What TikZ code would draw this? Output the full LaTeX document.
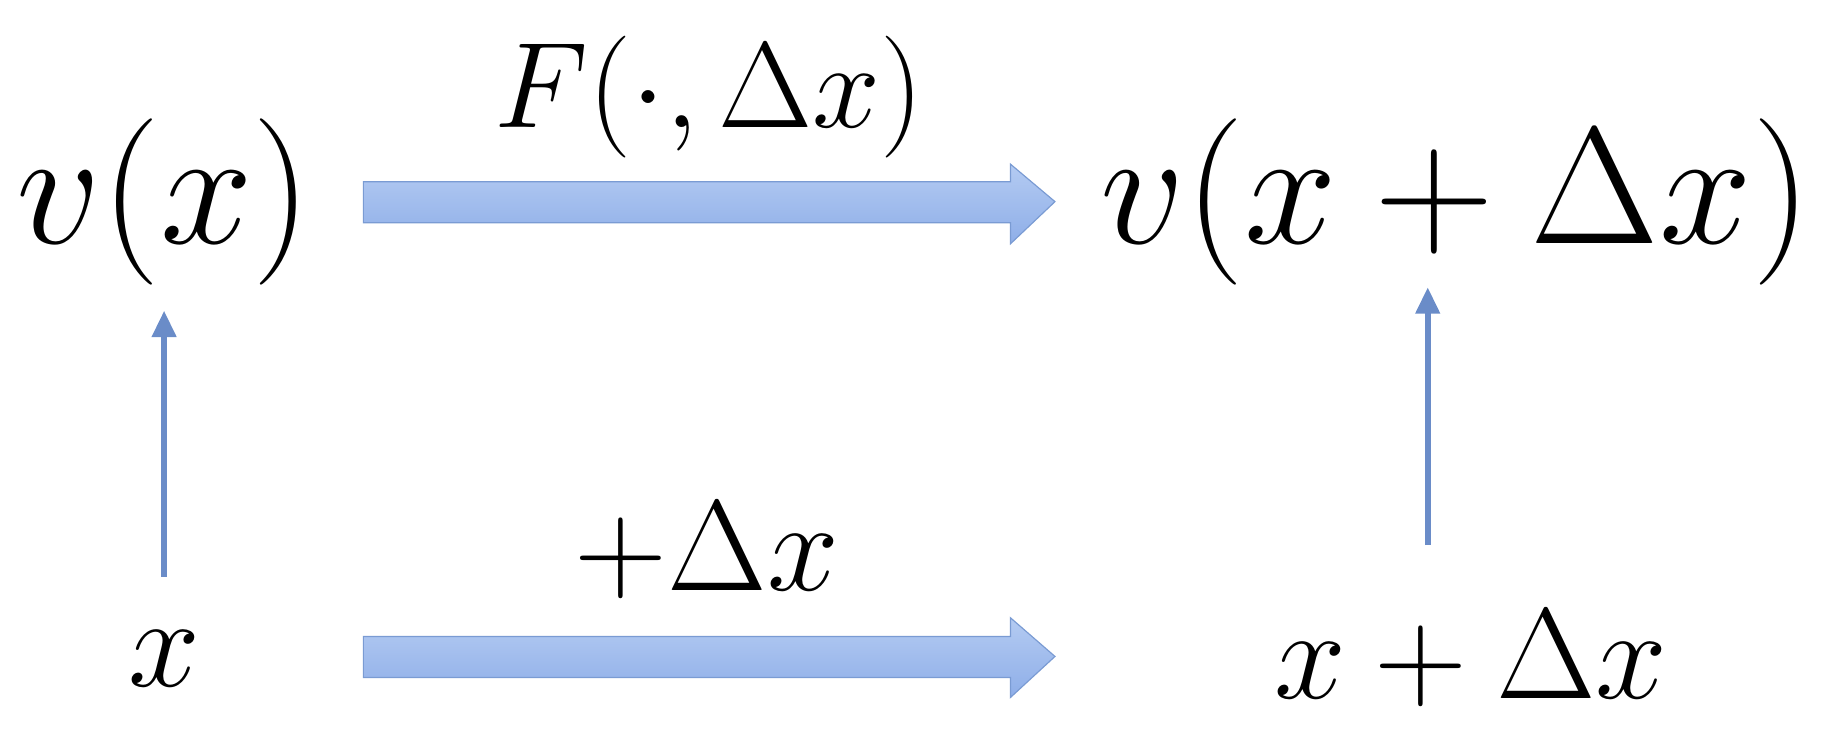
\documentclass[tikz,border=0pt]{standalone}
\usepackage{fix-cm}
\usetikzlibrary{arrows.meta}
\begin{document}
\begin{tikzpicture}[x=0.4pt,y=-0.4pt,
  big/.style={inner sep=0pt,font=\fontsize{56.8}{60}\selectfont},
  mid/.style={inner sep=0pt,font=\fontsize{44}{48}\selectfont},
  thin/.style={draw=arrowc,line width=2pt,-{Triangle[length=9pt,width=8pt]}},
  fat/.style={draw=borderc,line width=0.4pt,top color=topc,bottom color=botc}]
\definecolor{arrowc}{HTML}{6A8CC8}
\definecolor{borderc}{HTML}{7A9BD3}
\definecolor{topc}{HTML}{B4CBF2}
\definecolor{botc}{HTML}{8EAEE8}
\useasboundingbox (0,0) rectangle (1568,623);
\node[big] (vx) at (140,172) {$v(x)$};
\node[big] (vdx) at (1242,172) {$v(x+\Delta x)$};
\node[mid] (x) at (140,562) {$x$};
\node[mid] (xdx) at (1255,562) {$x+\Delta x$};
\node[inner sep=0pt,font=\fontsize{41.6}{44}\selectfont] (F) at (605,83) {$F(\cdot,\Delta x)$};
\node[inner sep=0pt,font=\fontsize{44}{48}\selectfont] (p) at (603,470) {$+\Delta x$};
\draw[fat] (310,155) -- (862,155) -- (862,140) -- (900,172) -- (862,208) -- (862,190) -- (310,190) -- cycle;
\draw[fat] (310,543) -- (862,543) -- (862,527) -- (900,560) -- (862,595) -- (862,578) -- (310,578) -- cycle;
\draw[thin] (140,492) -- (140,265);
\draw[thin] (1218,465) -- (1218,245);
\end{tikzpicture}
\end{document}
